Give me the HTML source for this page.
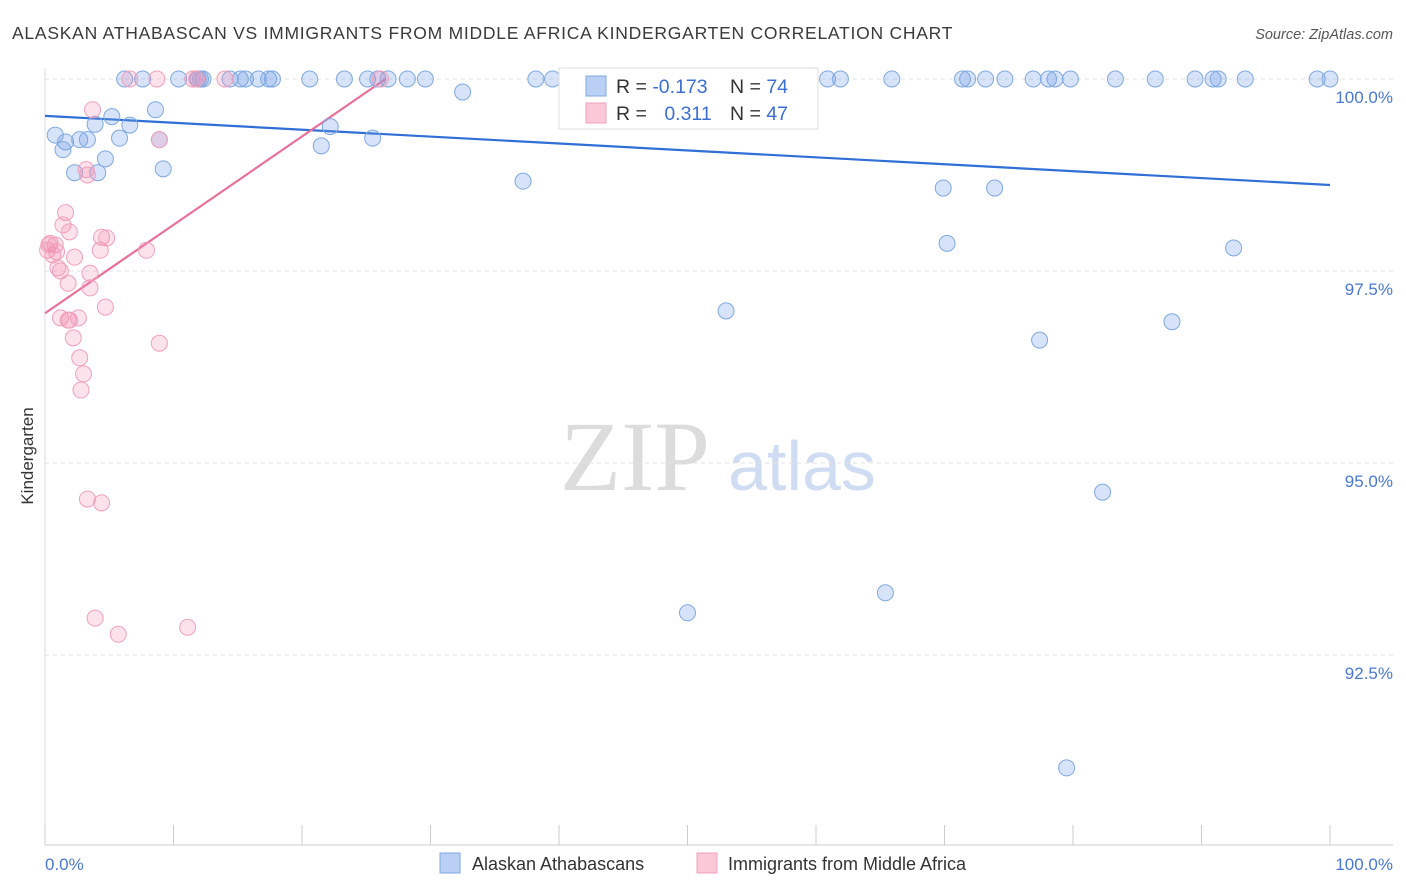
<!DOCTYPE html>
<html><head><meta charset="utf-8"><style>
body{margin:0;background:#fff;font-family:"Liberation Sans",sans-serif;}
svg{display:block}
</style></head><body>
<svg id="chart" width="1406" height="892" viewBox="0 0 1406 892" xmlns="http://www.w3.org/2000/svg">
<text x="12" y="39" font-size="17.5" fill="#3a3a3a" letter-spacing="0.75">ALASKAN ATHABASCAN VS IMMIGRANTS FROM MIDDLE AFRICA KINDERGARTEN CORRELATION CHART</text>
<text x="1393" y="39" font-size="14.5" fill="#555" font-style="italic" text-anchor="end">Source: ZipAtlas.com</text>
<g>
<text x="635" y="490" font-family="Liberation Serif,serif" font-size="100" fill="#dcdcdc" text-anchor="middle">ZIP</text>
<text x="802" y="490" font-size="70" fill="#cfdcf2" text-anchor="middle">atlas</text>
</g>
<g id="grid"></g><g id="axes"></g><g id="lines"></g><g id="pts"></g>
<text transform="translate(33,456) rotate(-90)" font-size="17" fill="#333" text-anchor="middle">Kindergarten</text>
<text x="45" y="870" font-size="17" fill="#4a78d0">0.0%</text>
<text x="1393" y="870" font-size="17" fill="#4a78d0" text-anchor="end">100.0%</text>
<g>
<rect x="559" y="68" width="259" height="61" fill="#fff" stroke="#ddd"/>
<rect x="586" y="76" width="20" height="20" fill="#b9d0f4" stroke="#7fa8e0"/>
<rect x="586" y="103" width="20" height="20" fill="#fbc8d8" stroke="#f0a0bb"/>
<text x="616" y="93" font-size="19.5" fill="#333">R = <tspan fill="#3b6fd4">-0.173</tspan></text>
<text x="730" y="93" font-size="19.5" fill="#333">N = <tspan fill="#3b6fd4">74</tspan></text>
<text x="616" y="120" font-size="19.5" fill="#333">R = <tspan fill="#3b6fd4" dx="12">0.311</tspan></text>
<text x="730" y="120" font-size="19.5" fill="#333">N = <tspan fill="#3b6fd4">47</tspan></text>
</g>
<g>
<rect x="440" y="853" width="20" height="20" fill="#b9d0f4" stroke="#7fa8e0"/>
<text x="472" y="870" font-size="18" fill="#333">Alaskan Athabascans</text>
<rect x="697" y="853" width="20" height="20" fill="#fbc8d8" stroke="#f0a0bb"/>
<text x="728" y="870" font-size="18" fill="#333">Immigrants from Middle Africa</text>
</g>
</svg>
<script>
const yTicks=[100,97.5,95,92.5];
const yTickLabels=["100.0%","97.5%","95.0%","92.5%"];
const xTicks=[0,10,20,30,40,50,60,70,80,90,100];
const blueX=[6.2,7.6,10.4,11.9,12.1,12.3,14.4,15.2,15.6,16.6,17.4,17.7,20.6,23.3,25.1,25.9,26.7,28.2,29.6,38.2,39.5,41.2,60.9,61.9,65.9,71.4,71.8,73.2,74.7,76.9,78.1,78.6,79.8,83.3,86.4,89.5,90.9,91.3,93.4,99.0,100,
32.5,0.8,1.6,1.4,2.7,3.3,5.2,6.6,3.9,5.8,8.6,4.7,2.3,4.1,9.2,8.9,22.2,21.5,25.5,37.2,69.9,73.9,70.2,92.5,53.0,87.7,77.4,82.3,50.0,65.4,79.5];
const blueY=[100,100,100,100,100,100,100,100,100,100,100,100,100,100,100,100,100,100,100,100,100,100,100,100,100,100,100,100,100,100,100,100,100,100,100,100,100,100,100,100,100,
99.83,99.27,99.18,99.08,99.21,99.21,99.51,99.40,99.41,99.23,99.60,98.96,98.78,98.78,98.83,99.21,99.38,99.13,99.23,98.67,98.58,98.58,97.86,97.80,96.98,96.84,96.60,94.62,93.05,93.31,91.03];
const pinkX=[6.6,8.7,11.5,11.8,14.0,26.1,3.7,8.9,3.2,3.3,1.6,1.4,1.9,4.4,4.8,0.4,0.8,0.2,0.9,0.6,7.9,2.3,4.3,1.0,1.2,3.5,1.8,3.5,4.7,1.2,1.9,2.6,1.8,2.2,8.9,2.7,3.0,2.8,3.3,4.4,3.9,5.7,11.1,0.3];
const pinkY=[100,100,100,100,100,100,99.60,99.21,98.82,98.75,98.26,98.10,98.01,97.94,97.93,97.86,97.84,97.77,97.75,97.71,97.77,97.68,97.77,97.54,97.50,97.47,97.34,97.28,97.03,96.89,96.86,96.89,96.86,96.63,96.56,96.37,96.16,95.95,94.53,94.48,92.98,92.77,92.86,97.84];
const blueTrendX=[0,100], blueTrendY=[99.52,98.62];
const pinkTrendX=[0,26.5], pinkTrendY=[96.95,100];
const NS="http://www.w3.org/2000/svg";
const X0=45,X1=1330,YTOP=79,PXPER=76.8;
function sx(v){return X0+(X1-X0)*v/100;}
function sy(v){return YTOP+(100-v)*PXPER;}
function mk(tag,attrs,parent){const e=document.createElementNS(NS,tag);for(const k in attrs)e.setAttribute(k,attrs[k]);document.getElementById(parent).appendChild(e);return e;}
yTicks.forEach((t,i)=>{
 const l=mk('line',{x1:45,x2:1393,y1:sy(t),y2:sy(t),stroke:'#e2e2e2','stroke-dasharray':'4,4'},'grid');
 
 
 const tx=mk('text',{x:1393,y:sy(t)+24,'font-size':17,fill:'#4a78d0','text-anchor':'end'},'grid');
 tx.textContent=yTickLabels[i];
 
 
});
const ax=mk('line',{x1:45,x2:1393,y1:845,y2:845,stroke:'#ccc'},'axes');


const ay=mk('line',{x1:45,x2:45,y1:68,y2:845,stroke:'#ddd'},'axes');


xTicks.forEach(t=>{
 const l=mk('line',{x1:sx(t),x2:sx(t),y1:825,y2:845,stroke:'#ccc'},'axes');
 
 
});
blueX.forEach((v,i)=>{
 const c=mk('circle',{cx:sx(v),cy:sy(blueY[i]),r:8,fill:'rgba(110,155,230,0.28)',stroke:'#7fa8e0','stroke-width':1},'pts');
 
 
});
pinkX.forEach((v,i)=>{
 const c=mk('circle',{cx:sx(v),cy:sy(pinkY[i]),r:8,fill:'rgba(245,140,175,0.25)',stroke:'#f0a0bb','stroke-width':1},'pts');
 
 
});
const bl=mk('line',{x1:sx(blueTrendX[0]),y1:sy(blueTrendY[0]),x2:sx(blueTrendX[1]),y2:sy(blueTrendY[1]),stroke:'#2f6fd6','stroke-width':2.2},'lines');


const pl=mk('line',{x1:sx(pinkTrendX[0]),y1:sy(pinkTrendY[0]),x2:sx(pinkTrendX[1]),y2:sy(pinkTrendY[1]),stroke:'#e8709a','stroke-width':2.2},'lines');


</script>
</body></html>
